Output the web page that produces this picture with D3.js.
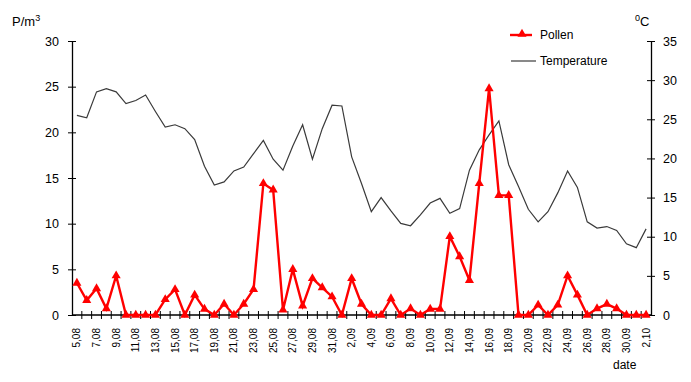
<!DOCTYPE html>
<html>
<head>
<meta charset="utf-8">
<script src="https://cdn.jsdelivr.net/npm/d3@7"></script>
<style>
  body { margin: 0; background: #fff; }
  svg { display: block; font-family: "Liberation Sans", Arial, sans-serif; }
</style>
</head>
<body>
<div id="chart"></div>
<script>
const dates = [
  "5,08","6,08","7,08","8,08","9,08","10,08","11,08","12,08","13,08","14,08",
  "15,08","16,08","17,08","18,08","19,08","20,08","21,08","22,08","23,08","24,08",
  "25,08","26,08","27,08","28,08","29,08","30,08","31,08",
  "1,09","2,09","3,09","4,09","5,09","6,09","7,09","8,09","9,09","10,09",
  "11,09","12,09","13,09","14,09","15,09","16,09","17,09","18,09","19,09","20,09",
  "21,09","22,09","23,09","24,09","25,09","26,09","27,09","28,09","29,09","30,09",
  "1,10","2,10"
];

const pollen = [
  3.5, 1.6, 2.9, 0.7, 4.3, 0, 0, 0, 0, 1.7,
  2.8, 0, 2.2, 0.65, 0, 1.2, 0, 1.2, 2.8, 14.4,
  13.7, 0.55, 5.0, 1.0, 4.0, 3.0, 2.0,
  0, 4.0, 1.2, 0, 0, 1.8, 0, 0.7, 0, 0.65,
  0.65, 8.6, 6.4, 3.8, 14.4, 24.8, 13.1, 13.1, 0, 0,
  1.1, 0, 1.1, 4.3, 2.2, 0, 0.7, 1.2, 0.7, 0,
  0, 0
];

const temperature = [
  25.5, 25.2, 28.5, 28.9, 28.5, 27.0, 27.4, 28.1, 26.0, 24.0,
  24.3, 23.8, 22.4, 19.0, 16.6, 17.0, 18.4, 18.9, 20.6, 22.3,
  19.9, 18.5, 21.6, 24.3, 19.9, 23.8, 26.8,
  26.7, 20.2, 16.8, 13.2, 15.0, 13.3, 11.7, 11.4, 12.8, 14.3,
  14.9, 13.0, 13.6, 18.5, 21.1, 23.0, 24.8, 19.2, 16.4, 13.5,
  11.9, 13.2, 15.6, 18.4, 16.3, 11.9, 11.1, 11.3, 10.8, 9.1,
  8.6, 11.0
];

const pollenTicks = [0, 5, 10, 15, 20, 25, 30];
const tempTicks = [0, 5, 10, 15, 20, 25, 30, 35];

const W = 691, H = 382;
const plotLeft = 72, plotRight = 651, plotTop = 41, plotBottom = 315;

const svg = d3.select("#chart").append("svg")
  .attr("width", W)
  .attr("height", H);

const x = d3.scaleBand()
  .domain(dates)
  .range([plotLeft, plotRight])
  .padding(0);

const yL = d3.scaleLinear().domain([0, 30]).range([plotBottom, plotTop]);
const yR = d3.scaleLinear().domain([0, 35]).range([plotBottom, plotTop]);

const cx = d => x(d) + x.bandwidth() / 2;

// left axis
const gL = svg.append("g")
  .attr("transform", `translate(${plotLeft},0)`)
  .call(d3.axisLeft(yL).tickValues(pollenTicks).tickSize(4).tickSizeOuter(0));
gL.selectAll(".tick line").attr("x1", 4).attr("x2", -4);
gL.selectAll(".tick text").attr("x", -13).style("font-size", "12.5px").attr("fill", "#000");
gL.select(".domain").attr("stroke", "#000").attr("stroke-width", 1.3);

// right axis
const gR = svg.append("g")
  .attr("transform", `translate(${plotRight},0)`)
  .call(d3.axisRight(yR).tickValues(tempTicks).tickSize(4).tickSizeOuter(0));
gR.selectAll(".tick line").attr("x1", -4).attr("x2", 4);
gR.selectAll(".tick text").attr("x", 12).style("font-size", "12.5px").attr("fill", "#000");
gR.select(".domain").attr("stroke", "#000").attr("stroke-width", 1.3);

// x axis
svg.append("line")
  .attr("x1", plotLeft).attr("x2", plotRight)
  .attr("y1", plotBottom).attr("y2", plotBottom)
  .attr("stroke", "#000")
  .attr("stroke-width", 1.3);

svg.append("g")
  .selectAll("line")
  .data(dates.slice(1))
  .join("line")
  .attr("x1", d => x(d)).attr("x2", d => x(d))
  .attr("y1", plotBottom - 4).attr("y2", plotBottom + 4)
  .attr("stroke", "#000")
  .attr("stroke-width", 1);

svg.append("g")
  .selectAll("text")
  .data(dates.filter((d, i) => i % 2 === 0))
  .join("text")
  .attr("transform", d => `translate(${cx(d) + 3.5},${plotBottom + 13}) rotate(-90)`)
  .attr("text-anchor", "end")
  .style("font-size", "10px")
  .attr("fill", "#000")
  .text(d => d);

// temperature line
const tempLine = d3.line()
  .x((d, i) => cx(dates[i]))
  .y(d => yR(d));

svg.append("path")
  .datum(temperature)
  .attr("fill", "none")
  .attr("stroke", "#3a3a3a")
  .attr("stroke-width", 1.2)
  .attr("d", tempLine);

// pollen line
const pollenLine = d3.line()
  .x((d, i) => cx(dates[i]))
  .y(d => yL(d));

svg.append("path")
  .datum(pollen)
  .attr("fill", "none")
  .attr("stroke", "#ff0000")
  .attr("stroke-width", 2.4)
  .attr("stroke-linejoin", "miter")
  .attr("d", pollenLine);

const tri = d3.symbol().type(d3.symbolTriangle).size(36);

svg.append("g")
  .selectAll("path")
  .data(pollen)
  .join("path")
  .attr("transform", (d, i) => `translate(${cx(dates[i])},${yL(d)})`)
  .attr("d", tri)
  .attr("fill", "#ff0000");

// axis titles
const unitL = svg.append("text")
  .attr("x", 12).attr("y", 26)
  .style("font-size", "13px")
  .attr("fill", "#000");
unitL.append("tspan").text("P/m");
unitL.append("tspan").attr("dy", -5).style("font-size", "9px").text("3");

const unitR = svg.append("text")
  .attr("x", 635).attr("y", 26)
  .style("font-size", "13px")
  .attr("fill", "#000");
unitR.append("tspan").attr("dy", -5).style("font-size", "9px").text("0");
unitR.append("tspan").attr("dy", 5).text("C");

svg.append("text")
  .attr("x", 613).attr("y", 369)
  .style("font-size", "12px")
  .attr("fill", "#000")
  .text("date");

// legend
const legend = svg.append("g");
legend.append("line")
  .attr("x1", 510).attr("x2", 532).attr("y1", 35).attr("y2", 35)
  .attr("stroke", "#ff0000").attr("stroke-width", 2.4);
legend.append("path")
  .attr("transform", "translate(522,34)")
  .attr("d", tri)
  .attr("fill", "#ff0000");
legend.append("text")
  .attr("x", 540).attr("y", 39)
  .style("font-size", "12px")
  .attr("fill", "#000")
  .text("Pollen");

legend.append("line")
  .attr("x1", 511).attr("x2", 536).attr("y1", 61).attr("y2", 61)
  .attr("stroke", "#3a3a3a").attr("stroke-width", 1.2);
legend.append("text")
  .attr("x", 540).attr("y", 65)
  .style("font-size", "12px")
  .attr("fill", "#000")
  .text("Temperature");
</script>
</body>
</html>
